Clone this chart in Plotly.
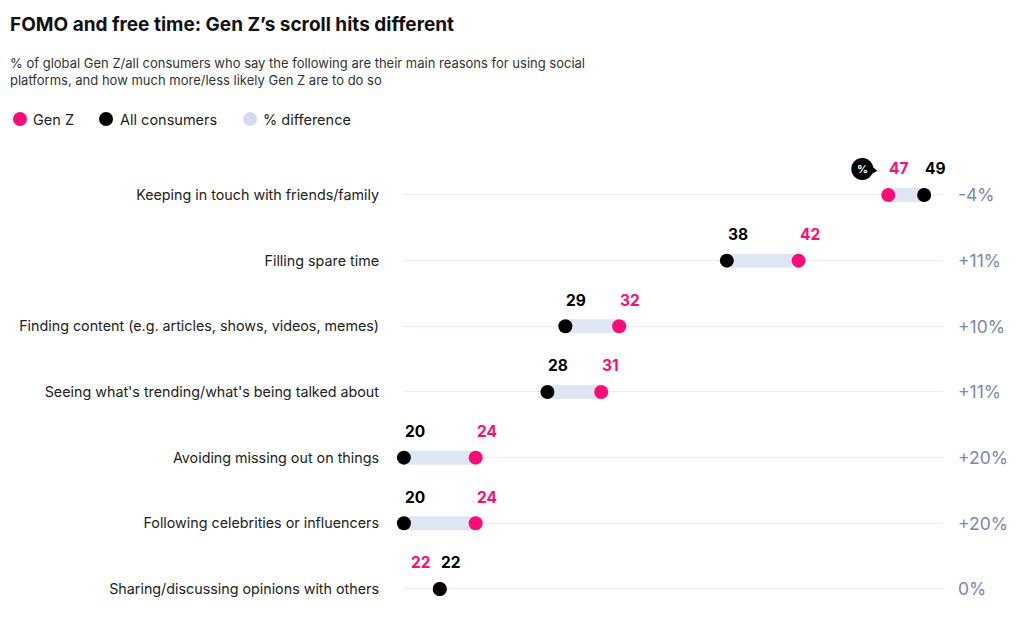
import plotly.graph_objects as go

categories = [
    "Keeping in touch with friends/family",
    "Filling spare time",
    "Finding content (e.g. articles, shows, videos, memes)",
    "Seeing what's trending/what's being talked about",
    "Avoiding missing out on things",
    "Following celebrities or influencers",
    "Sharing/discussing opinions with others",
]
gen_z = [47, 42, 32, 31, 24, 24, 22]
all_consumers = [49, 38, 29, 28, 20, 20, 22]
pct_diff = ["-4%", "+11%", "+10%", "+11%", "+20%", "+20%", "0%"]

PINK = "#ff0a78"
BLACK = "#000000"
BAR = "#dfe6f3"
GRID = "#e9edf6"
DIFFC = "#7a88aa"
FONT = "Inter"

OFF = 8  # page body margin
W, H = 1024, 628
L = 403 - OFF
R = W - (943 - OFF)
T = 150 - OFF
B = H - (610 - OFF)
PW, PH = W - L - R, H - T - B


def px_x(p):
    return (p - OFF - L) / PW


def px_y(p):
    return (H - B - (p - OFF)) / PH


rows = list(range(len(categories)))

bx, by = [], []
for i, (g, a) in enumerate(zip(gen_z, all_consumers)):
    bx += [min(g, a), max(g, a), None]
    by += [i, i, None]

fig = go.Figure()
fig.add_trace(go.Scatter(x=bx, y=by, mode="lines", line=dict(color=BAR, width=14),
                         hoverinfo="skip", showlegend=False, cliponaxis=False))
fig.add_trace(go.Scatter(x=gen_z, y=rows, mode="markers", marker=dict(color=PINK, size=14),
                         name="Gen Z", showlegend=False, cliponaxis=False))
fig.add_trace(go.Scatter(x=all_consumers, y=rows, mode="markers", marker=dict(color=BLACK, size=14),
                         name="All consumers", showlegend=False, cliponaxis=False))

ann = []
for i, (g, a, d) in enumerate(zip(gen_z, all_consumers, pct_diff)):
    if g == a:
        ann.append(dict(x=g, y=i, text=f"<b>{g}</b>", xanchor="right", yanchor="middle",
                        xshift=-7, yshift=26, showarrow=False, font=dict(color=PINK, size=15.5, family=FONT)))
    else:
        ann.append(dict(x=g, y=i, text=f"<b>{g}</b>", xanchor="left", yanchor="middle",
                        xshift=-1, yshift=26, showarrow=False, font=dict(color=PINK, size=15.5, family=FONT)))
    ann.append(dict(x=a, y=i, text=f"<b>{a}</b>", xanchor="left", yanchor="middle",
                    xshift=-1, yshift=26, showarrow=False, font=dict(color=BLACK, size=15.5, family=FONT)))
    ann.append(dict(x=1, xref="paper", y=i, text=d, xanchor="left", yanchor="middle",
                    xshift=13, showarrow=False, font=dict(color=DIFFC, size=17.5, family=FONT)))

# badge next to first row
first_min = min(gen_z[0], all_consumers[0])
ann.append(dict(x=first_min, y=0, text="<b>%</b>", xshift=-26, yshift=26, showarrow=False,
                font=dict(color="white", size=11, family=FONT)))

# title, subtitle
ann.append(dict(xref="paper", yref="paper", x=px_x(8), y=px_y(24), xanchor="left", yanchor="middle",
                text="<b>FOMO and free time: Gen Z’s scroll hits different</b>", showarrow=False,
                font=dict(size=19, color="#111111", family=FONT)))
ann.append(dict(xref="paper", yref="paper", x=px_x(8), y=px_y(53), xanchor="left", yanchor="top",
                align="left",
                text="% of global Gen Z/all consumers who say the following are their main reasons for using social<br>platforms, and how much more/less likely Gen Z are to do so",
                showarrow=False, font=dict(size=13, color="#333333", family=FONT)))

shapes = []
legend_items = [("Gen Z", PINK, 20, 31), ("All consumers", BLACK, 106, 118), ("% difference", "#d3dcee", 250, 261)]
for label, col, cx, tx in legend_items:
    shapes.append(dict(type="circle", xref="paper", yref="paper", xsizemode="pixel", ysizemode="pixel",
                       xanchor=px_x(cx), yanchor=px_y(119), x0=-7, x1=7, y0=-7, y1=7,
                       fillcolor=col, line=dict(width=0)))
    ann.append(dict(xref="paper", yref="paper", x=px_x(tx), y=px_y(119), xanchor="left", yanchor="middle",
                    text=label, showarrow=False, font=dict(size=14.5, color="#222222", family=FONT)))

# badge shape
shapes.append(dict(type="circle", xref="x", yref="y", xsizemode="pixel", ysizemode="pixel",
                   xanchor=first_min, yanchor=0, x0=-37, x1=-15, y0=15, y1=37,
                   fillcolor=BLACK, line=dict(width=0)))
shapes.append(dict(type="path", xref="x", yref="y", xsizemode="pixel", ysizemode="pixel",
                   xanchor=first_min, yanchor=0, path="M -21 33 L -11 24 L -21 19 Z",
                   fillcolor=BLACK, line=dict(width=0)))

fig.update_layout(
    width=W, height=H,
    margin=dict(l=L, r=R, t=T, b=B),
    paper_bgcolor="white", plot_bgcolor="white",
    xaxis=dict(range=[19.95, 50.05], visible=False, automargin=False),
    yaxis=dict(range=[6.32, -0.685], tickvals=rows, ticktext=categories, showgrid=True,
               gridcolor=GRID, gridwidth=1, zeroline=False, showline=False, ticks="",
               automargin=False,
               ticklabelstandoff=23, tickfont=dict(size=14.3, color="#222222", family=FONT)),
    annotations=ann,
    shapes=shapes,
    showlegend=False,
)

fig.write_html("out.html")
